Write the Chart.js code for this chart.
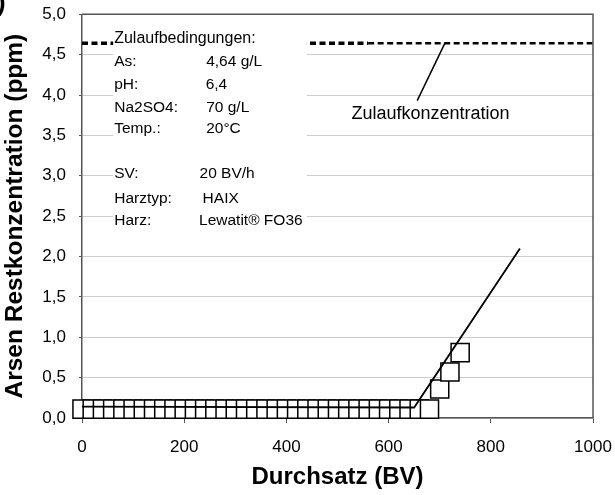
<!DOCTYPE html>
<html>
<head>
<meta charset="utf-8">
<script src="https://cdn.jsdelivr.net/npm/chart.js@4/dist/chart.umd.min.js"></script>
<style>
  html, body { margin: 0; padding: 0; background: #fff; }
  #wrap { width: 615px; height: 495px; }
</style>
</head>
<body>
<div id="wrap"><canvas id="c" width="615" height="495"></canvas></div>
<script>
// ---- data ----
const durchsatzBV = [0,20,40,60,80,100,120,140,160,180,200,220,240,260,280,300,320,340,360,380,400,420,440,460,480,500,520,540,560,580,600,620,640,660,680,700,720,740];
const restKonz   = [0.11,0.11,0.11,0.11,0.11,0.11,0.11,0.11,0.11,0.11,0.11,0.11,0.11,0.11,0.11,0.11,0.11,0.11,0.11,0.11,0.11,0.11,0.11,0.11,0.11,0.11,0.11,0.11,0.11,0.11,0.11,0.11,0.11,0.11,0.11,0.36,0.57,0.81];
const fitBV   = [0, 650, 857];
const fitKonz = [0.14, 0.13, 2.10];
const feedBV   = [0, 560, 1000];
const feedKonz = [4.64, 4.64, 4.64];
const leaderBV   = [710, 656];
const leaderKonz = [4.64, 3.93];
const xTickLabels = ['0','200','400','600','800','1000'];
const yTickLabels = ['0,0','0,5','1,0','1,5','2,0','2,5','3,0','3,5','4,0','4,5','5,0'];
const xTitle = 'Durchsatz (BV)';
const yTitle = 'Arsen Restkonzentration (ppm)';
const feedLabel = 'Zulaufkonzentration';
const condTitle = 'Zulaufbedingungen:';
const condNames  = ['As:', 'pH:', 'Na2SO4:', 'Temp.:', '', 'SV:', 'Harztyp:', 'Harz:'];
const condValues = ['4,64 g/L', '6,4', '70 g/L', '20°C', '', '20 BV/h', 'HAIX', 'Lewatit® FO36'];

const FONT = '"Liberation Sans", Arial, sans-serif';
const toPts = (xs, ys) => xs.map((x, i) => ({ x: x, y: ys[i] }));

// text box placement (in data units of the axes)
const boxArea = { x0: 61, x1: 440, y0: 4.82, y1: 2.28 };
const condTitleY = 4.70;
const condRowsY = [4.41, 4.13, 3.84, 3.58, 0, 3.02, 2.71, 2.44];
const condNameX = 63;
const condValX = [243, 242, 243, 243, 0, 230, 236, 229];
const feedLabelPos = { x: 682, y: 3.76 };

const overlay = {
  id: 'overlay',
  beforeDraw(chart) {
    const c = chart.ctx;
    c.save(); c.fillStyle = '#fff'; c.fillRect(0, 0, chart.width, chart.height); c.restore();
  },
  afterDatasetsDraw(chart) {
    const c = chart.ctx, xs = chart.scales.x, ys = chart.scales.y;
    c.save();
    const bx0 = xs.getPixelForValue(boxArea.x0), bx1 = xs.getPixelForValue(boxArea.x1);
    const by0 = ys.getPixelForValue(boxArea.y0), by1 = ys.getPixelForValue(boxArea.y1);
    c.fillStyle = '#fff';
    c.fillRect(bx0, by0, bx1 - bx0, by1 - by0);
    c.fillStyle = '#000';
    c.textBaseline = 'middle';
    c.textAlign = 'left';
    c.font = '16px ' + FONT;
    c.fillText(condTitle, xs.getPixelForValue(condNameX), ys.getPixelForValue(condTitleY));
    c.font = '15.5px ' + FONT;
    for (let i = 0; i < condNames.length; i++) {
      if (!condNames[i]) continue;
      const y = ys.getPixelForValue(condRowsY[i]);
      c.fillText(condNames[i], xs.getPixelForValue(condNameX), y);
      c.fillText(condValues[i], xs.getPixelForValue(condValX[i]), y);
    }
    c.font = '18px ' + FONT;
    c.textAlign = 'center';
    c.fillText(feedLabel, xs.getPixelForValue(feedLabelPos.x), ys.getPixelForValue(feedLabelPos.y));
    c.restore();
  },
  afterDraw(chart) {
    const c = chart.ctx, a = chart.chartArea;
    c.save();
    c.strokeStyle = '#555';
    c.lineWidth = 1.5;
    c.beginPath();
    c.moveTo(a.left, a.top); c.lineTo(a.right, a.top); c.lineTo(a.right, a.bottom);
    c.stroke();
    c.fillStyle = '#000';
    c.font = 'bold 26px ' + FONT;
    c.textAlign = 'left';
    c.textBaseline = 'middle';
    c.fillText(')', -3, 4);
    c.restore();
  }
};

new Chart(document.getElementById('c'), {
  type: 'scatter',
  data: {
    datasets: [
      {
        label: 'Fit',
        order: 0,
        data: toPts(fitBV, fitKonz),
        showLine: true,
        borderColor: '#000',
        borderWidth: 1.8,
        pointRadius: 0,
        fill: false,
        tension: 0,
        clip: false
      },
      {
        label: 'Leader',
        order: 0,
        data: toPts(leaderBV, leaderKonz),
        showLine: true,
        borderColor: '#000',
        borderWidth: 1.5,
        pointRadius: 0,
        fill: false
      },
      {
        label: 'Messwerte',
        order: 2,
        data: toPts(durchsatzBV, restKonz),
        showLine: false,
        pointStyle: 'rect',
        pointRadius: 12.8,
        pointBackgroundColor: '#fff',
        pointBorderColor: '#000',
        pointBorderWidth: 1.5,
        clip: false
      },
      {
        label: 'Zulauf',
        order: 3,
        data: toPts(feedBV, feedKonz),
        showLine: true,
        borderColor: '#000',
        borderWidth: 2.5,
        borderDash: [6, 3.5],
        pointRadius: 0,
        fill: false,
        segment: {
          borderWidth: ctx => (ctx.p0.parsed.x < 500 ? 3.5 : 2.5)
        }
      }
    ]
  },
  options: {
    responsive: false,
    animation: false,
    events: [],
    layout: { padding: { top: 13, right: 22, left: 0, bottom: 0 } },
    plugins: { legend: { display: false }, tooltip: { enabled: false }, title: { display: false } },
    scales: {
      x: {
        type: 'linear',
        min: 0, max: 1000,
        afterFit(s) { s.height = 77; s.paddingLeft = 0; s.paddingRight = 0; },
        ticks: {
          stepSize: 200,
          color: '#000',
          font: { family: FONT, size: 17 },
          padding: 14,
          maxRotation: 0,
          callback: (v, i) => xTickLabels[i]
        },
        grid: { display: true, drawOnChartArea: false, drawTicks: true, tickLength: 5, tickColor: '#555', tickWidth: 1 },
        border: { display: true, color: '#555', width: 1.5 },
        title: {
          display: true, text: xTitle, color: '#000',
          font: { family: FONT, size: 24, weight: 'bold' },
          padding: { top: 0, bottom: 3 }
        }
      },
      y: {
        type: 'linear',
        min: 0, max: 5,
        afterFit(s) { s.width = 82; s.paddingTop = 0; s.paddingBottom = 0; },
        ticks: {
          stepSize: 0.5,
          color: '#000',
          font: { family: FONT, size: 17 },
          padding: 13,
          callback: (v, i) => yTickLabels[i]
        },
        grid: { display: true, drawOnChartArea: true, color: '#cccccc', lineWidth: 1, drawTicks: true, tickLength: 3, tickColor: '#555' },
        border: { display: true, color: '#555', width: 1.5 },
        title: {
          display: true, text: yTitle, color: '#000',
          font: { family: FONT, size: 24.5, weight: 'bold' },
          padding: { top: 1, bottom: 0 }
        }
      }
    }
  },
  plugins: [overlay]
});
</script>
</body>
</html>
